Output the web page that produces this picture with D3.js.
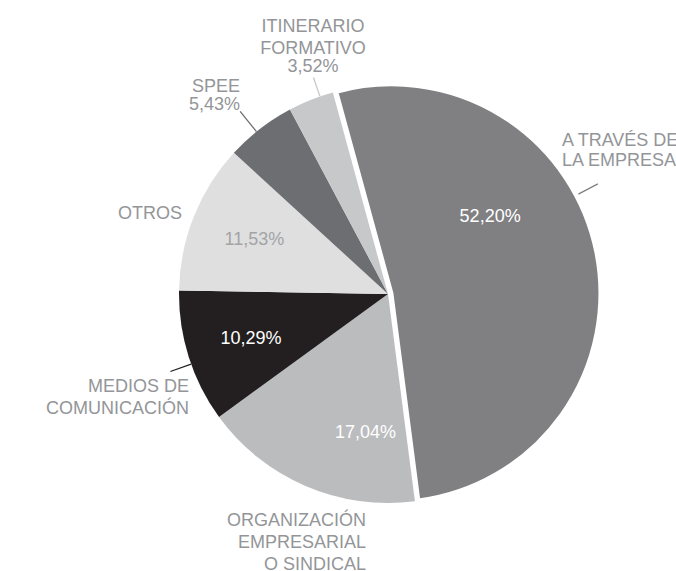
<!DOCTYPE html>
<html>
<head>
<meta charset="utf-8">
<script src="https://cdn.jsdelivr.net/npm/d3@7"></script>
<style>
  html, body { margin: 0; padding: 0; background: #ffffff; }
  svg { display: block; }
  text { font-family: "Liberation Sans", Arial, sans-serif; font-weight: 400; font-size: 18px; }
</style>
</head>
<body>
<script>
// ---- data ----
const categories = ["A TRAVÉS DE LA EMPRESA", "ORGANIZACIÓN EMPRESARIAL O SINDICAL", "MEDIOS DE COMUNICACIÓN", "OTROS", "SPEE", "ITINERARIO FORMATIVO"];
const values = [52.20, 17.04, 10.29, 11.53, 5.43, 3.52];
const valueLabels = ["52,20%", "17,04%", "10,29%", "11,53%", "5,43%", "3,52%"];
const nameLines = [["A TRAVÉS DE", "LA EMPRESA"], ["ORGANIZACIÓN", "EMPRESARIAL", "O SINDICAL"], ["MEDIOS DE", "COMUNICACIÓN"], ["OTROS"], ["SPEE"], ["ITINERARIO", "FORMATIVO"]];
const colors = ["#808083", "#bbbcbe", "#231f20", "#dfdfe0", "#6d6e71", "#c7c8ca"];

// ---- layout ----
const W = 676, H = 571;
const cx = 388, cy = 294, R = 209;
const startDeg = -15.3;
const explode = [3.5, 0, 0, 0, 0, 0];
const deg = Math.PI / 180;

const svg = d3.select("body").append("svg").attr("width", W).attr("height", H);
const g = svg.append("g").attr("transform", `translate(${cx},${cy})`);

const pie = d3.pie().sort(null).value(d => d)
  .startAngle(startDeg * deg).endAngle(startDeg * deg + 2 * Math.PI);
const arcs = pie(values);
const arc = d3.arc().innerRadius(0).outerRadius(R);

const polar = (aDeg, r) => [r * Math.sin(aDeg * deg), -r * Math.cos(aDeg * deg)];

g.selectAll("path.slice").data(arcs).join("path")
  .attr("class", "slice")
  .attr("d", arc)
  .attr("fill", (d, i) => colors[i])
  .attr("stroke", (d, i) => i === 0 ? "#ffffff" : "none")
  .attr("stroke-width", 4)
  .attr("stroke-linejoin", "miter")
  .attr("transform", (d, i) => {
    const m = (d.startAngle + d.endAngle) / 2;
    return `translate(${explode[i] * Math.sin(m)},${-explode[i] * Math.cos(m)})`;
  });

// inner value labels (polar: angle deg, radius of baseline point)
const innerPos = { 0: [54.8, 125], 1: [188.9, 145.7], 2: [250.1, 145.6], 3: [290.3, 142.5] };
const innerColor = { 0: "#ffffff", 1: "#ffffff", 2: "#ffffff", 3: "#a3a4a6" };
Object.keys(innerPos).forEach(k => {
  const i = +k;
  const [x, y] = polar(innerPos[k][0], innerPos[k][1]);
  g.append("text").attr("x", x).attr("y", y).attr("text-anchor", "middle")
    .attr("fill", innerColor[k]).text(valueLabels[i]);
});

// leader lines (angle deg, r0, r1)
const leaders = { 0: [62.3, 215, 237], 2: [250.4, 209, 231], 4: [321, 209, 235], 5: [341, 209, 229] };
Object.keys(leaders).forEach(k => {
  const [a, r0, r1] = leaders[k];
  const p0 = polar(a, r0), p1 = polar(a, r1);
  g.append("line").attr("x1", p0[0]).attr("y1", p0[1]).attr("x2", p1[0]).attr("y2", p1[1])
    .attr("stroke", colors[+k]).attr("stroke-width", 1.3);
});

// outer labels
const labelColor = "#939598";
const outer = [
  { i: 0, anchor: "start", x: 562, y: 146, step: 20, withValue: false },
  { i: 1, anchor: "end", x: 366, y: 526, step: 22, withValue: false },
  { i: 2, anchor: "end", x: 189, y: 392, step: 22, withValue: false },
  { i: 3, anchor: "end", x: 182, y: 219, step: 22, withValue: false },
  { i: 4, anchor: "end", x: 240, y: 92, step: 18, withValue: true },
  { i: 5, anchor: "middle", x: 313, y: 32, step: 22, withValue: true, valueStep: 18 }
];
outer.forEach(o => {
  const t = svg.append("text").attr("text-anchor", o.anchor).attr("fill", labelColor);
  let y = o.y;
  nameLines[o.i].forEach((ln, j) => {
    if (j > 0) y += o.step;
    t.append("tspan").attr("x", o.x).attr("y", y).text(ln);
  });
  if (o.withValue) {
    y += (o.valueStep || o.step);
    t.append("tspan").attr("x", o.x).attr("y", y).text(valueLabels[o.i]);
  }
});
</script>
</body>
</html>
